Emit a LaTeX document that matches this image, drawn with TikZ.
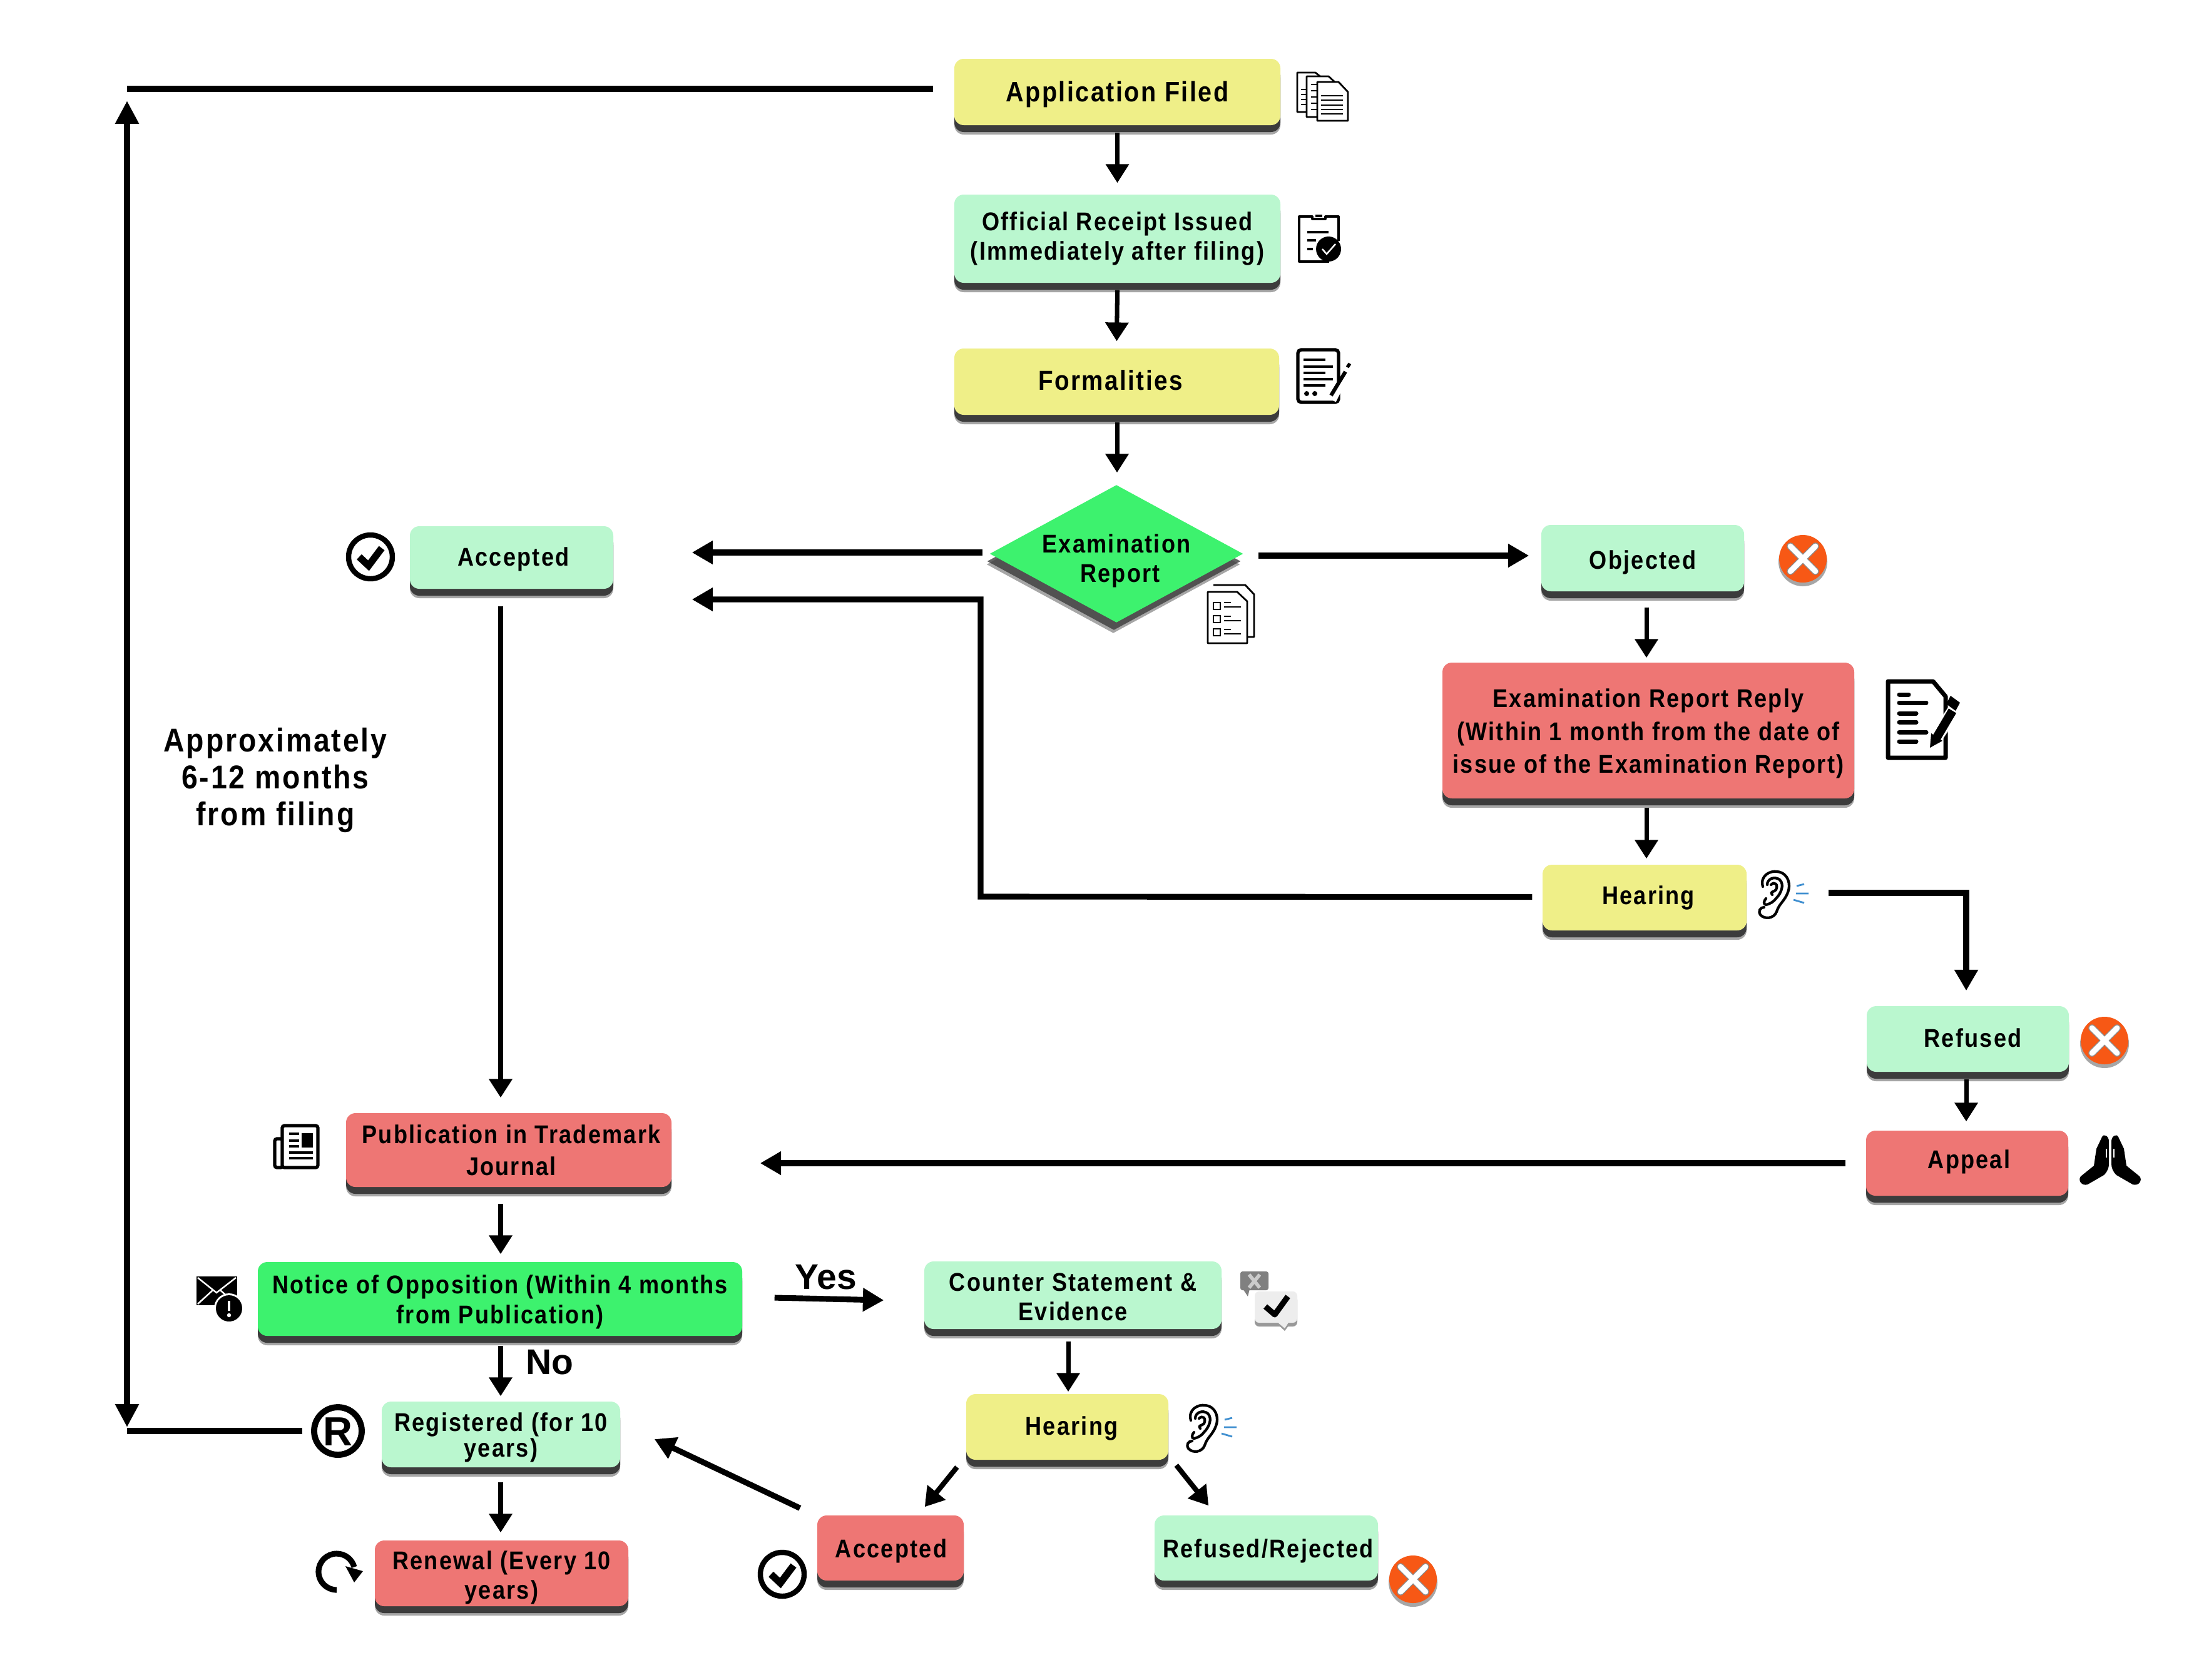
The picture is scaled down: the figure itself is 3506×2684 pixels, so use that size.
\documentclass[tikz,border=0pt]{standalone}
\usepackage{fontspec}
\setmainfont{Liberation Sans}[FakeStretch=0.88,LetterSpace=5.5]
\newfontfamily\labfont{Liberation Sans}
\usetikzlibrary{arrows.meta,shapes.geometric,shadows}
\newdimen\pxu \pxu=0.01cm
\definecolor{cyel}{HTML}{EFEF88}
\definecolor{cgrn}{HTML}{BAF7CF}
\definecolor{cgrd}{HTML}{7FA88C}
\definecolor{cred}{HTML}{EE7674}
\definecolor{cvivid}{HTML}{3DF26E}
\definecolor{corg}{HTML}{F75815}
\definecolor{cshd}{HTML}{3C3C3C}
\definecolor{cblu}{HTML}{3F8FD0}
\pgfdeclareverticalshading{topdark}{100bp}{color(0bp)=(cgrn);color(88bp)=(cgrn);color(100bp)=(cgrd)}
\newcommand{\fsz}[2]{\fontsize{#1pt}{#2pt}\selectfont}
\newcommand{\dn}[1]{\rule{0pt}{\dimexpr 8.7pt+1.27pt*#1\relax}}
\newcommand{\upw}[1]{\rule[-\dimexpr #1\relax]{0pt}{1pt}}
\tikzset{
 boxb/.style={rectangle,rounded corners=15\pxu,inner sep=0pt,align=center,font=\bfseries\fsz{11.67}{13.37},
   general shadow={fill=black,opacity=.35,shadow yshift=-15\pxu},
   general shadow={fill=cshd,shadow yshift=-11\pxu}},
 cy/.style={boxb,fill=cyel},
 cg/.style={boxb,fill=cgrn},
 cgt/.style={boxb,shade,shading=topdark},
 cr/.style={boxb,fill=cred},
 cv/.style={boxb,fill=cvivid},
 arr/.style={-{Triangle[length=8.5pt,width=10.2pt]},line width=2pt},
 arrt/.style={-{Triangle[length=9.5pt,width=10.2pt]},line width=2.6pt},
 plainl/.style={line width=2.6pt},
 iconl/.style={line width=.8pt,draw=black,fill=white,line join=round},
 txl/.style={inner sep=0pt,align=center,font=\bfseries\fsz{15}{16.8}},
 lab/.style={inner sep=0pt,font=\labfont\bfseries\fsz{16.2}{18}},
}
\newcommand{\xicon}[2]{\begin{scope}[shift={(#1,#2)}]
 \fill[black,opacity=.35] (0,5) circle[radius=39];
 \fill[corg] (0,0) circle[radius=38];
 \draw[black!45,line width=3.3pt,line cap=round] (-20,-20) -- (20,20) (-20,20) -- (20,-20);
 \draw[white,line width=2.5pt,line cap=round] (-20,-20) -- (20,20) (-20,20) -- (20,-20);
\end{scope}}
\newcommand{\chkicon}[2]{\begin{scope}[shift={(#1,#2)}]
 \draw[line width=2.4pt] (0,0) circle[radius=35];
 \draw[line width=3.2pt] (-18,0) -- (-3,14) -- (18,-14);
\end{scope}}
\newcommand{\earicon}[2]{\begin{scope}[shift={(#1,#2)}]
 \draw[line width=1.2pt,line cap=round] (7,25) .. controls (2,8) and (18,-1) .. (30,1) .. controls (48,3) and (52,22) .. (47,34) .. controls (42,48) and (33,52) .. (29,65) .. controls (25,76) and (10,78) .. (3,70) .. controls (-1,64) and (3,58) .. (9,58);
 \draw[line width=1.2pt,line cap=round] (14,22) .. controls (14,12) and (26,8) .. (34,14) .. controls (42,22) and (36,36) .. (28,44) .. controls (24,49) and (20,52) .. (12,54) .. controls (8,54) and (8,48) .. (12,44);
 \draw[line width=1.2pt,line cap=round] (20,22) .. controls (26,16) and (32,22) .. (28,30) .. controls (25,34) and (18,32) .. (22,38);
 \draw[cblu,line width=.8pt] (61,24) -- (73,21) (60,36) -- (80,36) (56,46) -- (73,51);
\end{scope}}
\newcommand{\handhalf}{\fill[black] (2,10) .. controls (2,2) and (10,-3) .. (13,3) -- (22,22) -- (26,49) -- (47,66) .. controls (52,72) and (46,82) .. (36,79) -- (10,64) .. controls (4,58) and (2,52) .. (2,46) -- cycle;
 \draw[white,line width=.7pt] (6,22) -- (6,36);}
\begin{document}
\begin{tikzpicture}[x=0.01cm,y=-0.01cm]
\useasboundingbox (0,0) rectangle (3506,2684);
\fill[white] (0,0) rectangle (3506,2684);
% boxes
\node[cy,minimum width=521\pxu,minimum height=106\pxu,font=\bfseries\fsz{12.8}{14}] (app) at (1785.5,147) {\dn{2}Application Filed};
\node[cg,minimum width=521\pxu,minimum height=141\pxu] (rec) at (1785.5,381.5) {Official Receipt Issued\\(Immediately after filing)};
\node[cy,minimum width=519\pxu,minimum height=106\pxu,font=\bfseries\fsz{12.5}{14}] (form) at (1784.5,610) {\upw{1.27pt}Formalities\hspace*{20\pxu}};
\node[diamond,shape aspect=1.84,inner sep=-8pt,fill=cvivid,align=center,minimum width=405\pxu,minimum height=220\pxu,font=\bfseries\fsz{11.67}{13.5},
  general shadow={fill=black,opacity=.35,shadow xshift=-5\pxu,shadow yshift=-17\pxu},
  general shadow={fill=cshd,opacity=.8,shadow xshift=-4\pxu,shadow yshift=-12\pxu}] (diam) at (1784,885) {\rule{0pt}{15pt}Examination\\\hspace*{12\pxu}Report};
\node[cg,minimum width=325\pxu,minimum height=100\pxu] (acc) at (817.5,891) {\dn{1}\hspace*{6\pxu}Accepted};
\node[cg,minimum width=324\pxu,minimum height=106\pxu] (obj) at (2625,892) {\dn{3}Objected};
\node[cr,minimum width=658\pxu,minimum height=217\pxu,font=\bfseries\fsz{11.67}{14.8}] (rep) at (2634,1167.5) {\dn{2}Examination Report Reply\\(Within 1 month from the date of\\issue of the Examination Report)};
\node[cy,minimum width=326\pxu,minimum height=105\pxu] (hearA) at (2628,1434.5) {\hspace*{12\pxu}Hearing};
\node[cg,minimum width=323\pxu,minimum height=105\pxu] (ref) at (3144.5,1660.5) {\upw{1.27pt}\hspace*{16\pxu}Refused};
\node[cr,minimum width=323\pxu,minimum height=104\pxu] (appeal) at (3143.5,1859) {\upw{3.7pt}\hspace*{6\pxu}Appeal};
\node[cr,minimum width=520\pxu,minimum height=118\pxu,font=\bfseries\fsz{11.67}{14.6}] (pub) at (813,1838) {\hspace*{8\pxu}Publication in Trademark\\\hspace*{8\pxu}Journal};
\node[cv,minimum width=774\pxu,minimum height=118\pxu,font=\bfseries\fsz{11.67}{13.7}] (notice) at (799,2076) {\dn{2}Notice of Opposition (Within 4 months\\from Publication)};
\node[cgt,minimum width=381\pxu,minimum height=105\pxu,font=\bfseries\fsz{11.67}{11.7}] (reg) at (800.5,2292.5) {\dn{2}Registered (for 10\\years)};
\node[cr,minimum width=405\pxu,minimum height=105\pxu,font=\bfseries\fsz{11.67}{13.4}] (renew) at (801.5,2514.5) {\dn{3}Renewal (Every 10\\years)};
\node[cgt,minimum width=475\pxu,minimum height=108\pxu,font=\bfseries\fsz{11.67}{13.4}] (counter) at (1714.5,2070) {\dn{1}Counter Statement \&\\Evidence};
\node[cy,minimum width=323\pxu,minimum height=105\pxu] (hearB) at (1705.5,2280.5) {\dn{1}\hspace*{14\pxu}Hearing};
\node[cr,minimum width=234\pxu,minimum height=104\pxu] (accB) at (1423,2474) {\dn{2}\hspace*{2\pxu}Accepted};
\node[cgt,minimum width=357\pxu,minimum height=104\pxu] (refB) at (2023.5,2474) {\dn{2}\hspace*{6\pxu}Refused/Rejected};
% free labels
\node[txl] (approx) at (440,1247) {Approximately\\6-12 months\\from filing};
\node[lab] (yes) at (1320,2041) {Yes};
\node[lab] (no) at (878,2177) {No};
\node[inner sep=0pt,font=\labfont\bfseries\fsz{18.5}{20}] (rsym) at (540,2288) {R};
% free connector points
\coordinate (ktop) at (203,142);
\coordinate (kbot) at (203,2287);
\coordinate (vtop) at (203,161);
\coordinate (vbot) at (203,2281);
\coordinate (kh1) at (1567,1433);
\coordinate (kh2) at (1567,958);
\coordinate (kh3) at (3142,1427);
% connectors
\draw[arr] ([yshift=-11\pxu]app.south) -- ([yshift=18\pxu]rec.north);
\draw[arr] ([yshift=-11\pxu]rec.south) -- ([yshift=11\pxu]form.north);
\draw[arr] ([xshift=.5\pxu,yshift=-11\pxu]form.south) -- ([xshift=1\pxu,yshift=19\pxu]diam.north);
\draw[arrt] ([xshift=24\pxu,yshift=-3\pxu]diam.east) -- ([xshift=-19\pxu,yshift=4\pxu]obj.west);
\draw[arrt] ([xshift=-11\pxu,yshift=2\pxu]diam.west) -- ([xshift=125\pxu,yshift=8\pxu]acc.east);
\draw[arrt] ([xshift=-16\pxu,yshift=1\pxu]hearA.west) -- (kh1) -- (kh2) -- ([xshift=125\pxu,yshift=-67\pxu]acc.east);
\draw[arr,line width=2.3pt] ([xshift=-17.5\pxu,yshift=-27\pxu]acc.south) -- ([xshift=-13\pxu,yshift=24\pxu]pub.north);
\draw[arr] ([xshift=6\pxu,yshift=-25\pxu]obj.south) -- ([xshift=-3\pxu,yshift=7\pxu]rep.north);
\draw[arr] ([xshift=-3\pxu,yshift=-14\pxu]rep.south) -- ([xshift=3\pxu,yshift=9\pxu]hearA.north);
\draw[arrt] ([xshift=130\pxu,yshift=7.5\pxu]hearA.east) -- (kh3) -- ([xshift=-2.5\pxu,yshift=24\pxu]ref.north);
\draw[arr] ([xshift=-2.5\pxu,yshift=-11\pxu]ref.south) -- ([xshift=-1.5\pxu,yshift=14\pxu]appeal.north);
\draw[arrt] ([xshift=-32\pxu]appeal.west) -- ([xshift=141\pxu,yshift=-21\pxu]pub.east);
\draw[arr] ([xshift=-13\pxu,yshift=-26\pxu]pub.south) -- ([xshift=1\pxu,yshift=12\pxu]notice.north);
\draw[arr] ([xshift=1\pxu,yshift=-15\pxu]notice.south) -- ([xshift=-.5\pxu,yshift=8\pxu]reg.north);
\draw[arr] ([xshift=-.5\pxu,yshift=-23\pxu]reg.south) -- ([xshift=-1.5\pxu,yshift=12\pxu]renew.north);
\draw[arrt] ([xshift=51\pxu,yshift=2\pxu]notice.east) -- ([xshift=-64\pxu,yshift=-8\pxu]counter.west);
\draw[arr] ([xshift=-7.5\pxu,yshift=-19\pxu]counter.south) -- ([xshift=1.5\pxu,yshift=3\pxu]hearB.north);
\draw[arr,line width=2.3pt] ([xshift=-14\pxu,yshift=-11\pxu]hearB.south west) -- ([xshift=-63\pxu,yshift=13\pxu]accB.north east);
\draw[arr,line width=2.3pt] ([xshift=12\pxu,yshift=-8\pxu]hearB.south east) -- ([xshift=87\pxu,yshift=15\pxu]refB.north west);
\draw[arrt] ([xshift=-27\pxu,yshift=11\pxu]accB.north west) -- ([xshift=54\pxu,yshift=-7.5\pxu]reg.east);
\draw[plainl] ([xshift=-33\pxu,yshift=5\pxu]app.west) -- (ktop);
\draw[plainl] ([xshift=-126\pxu,yshift=5.5\pxu]reg.west) -- (kbot);
\draw[{Triangle[length=10.5pt,width=10.2pt]}-{Triangle[length=10.5pt,width=10.2pt]},line width=2.6pt] (vtop) -- (vbot);
% status icons
\xicon{2881}{893}
\xicon{3363}{1663}
\xicon{2258}{2524}
\chkicon{592}{890}
\chkicon{1250}{2516}
\earicon{2810}{1392}
\earicon{1896}{2245}
% R circle
\draw[line width=2.8pt] (540,2287) circle[radius=38];
% refresh
\draw[line width=2.6pt] (538,2541) arc[start angle=90,end angle=345,radius=29];
\fill (552,2503) -- (580,2511) -- (566,2529) -- cycle;
% documents icon
\draw[iconl] (2073,116) -- (2102,116) -- (2113,125) -- (2113,179) -- (2073,179) -- cycle;
\draw[iconl] (2088,122) -- (2123,122) -- (2134,132) -- (2134,187) -- (2088,187) -- cycle;
\draw[iconl] (2105,131) -- (2139,131) -- (2154,147) -- (2154,193) -- (2105,193) -- cycle;
\draw[line width=.7pt] (2111,153) -- (2146,153) (2111,160) -- (2146,160) (2111,168) -- (2146,168) (2111,175) -- (2146,175) (2111,182) -- (2146,182)
  (2079,143) -- (2088,143) (2079,151) -- (2088,151) (2079,159) -- (2088,159) (2079,167) -- (2088,167)
  (2095,135) -- (2105,135) (2095,145) -- (2105,145) (2095,155) -- (2105,155) (2095,165) -- (2105,165) (2095,175) -- (2105,175);
% clipboard icon
\draw[line width=.9pt,line join=round] (2124,418) -- (2076,418) -- (2076,346) -- (2097,346) -- (2097,350) -- (2118,350) -- (2118,346) -- (2139,346) -- (2139,385);
\draw[line width=.9pt] (2102,345) -- (2113,345);
\draw[line width=.9pt] (2089,371) -- (2123,371) (2089,384) -- (2103,384) (2089,398) -- (2098,398);
\fill (2123,398) circle[radius=20];
\draw[white,line width=.7pt] (2113,398) -- (2120,406) -- (2134,390);
% form icon
\draw[line width=1.5pt,rounded corners=1.5pt] (2074,559) rectangle (2139,643);
\draw[line width=1pt] (2083,575) -- (2118,575) (2083,586) -- (2130,586) (2083,596) -- (2118,596) (2083,606) -- (2130,606) (2083,616) -- (2118,616);
\fill (2088,629) circle[radius=4] (2101,629) circle[radius=4];
\draw[white,line width=3pt] (2155,590) -- (2130,640);
\draw[line width=1.7pt] (2150,594) -- (2127,632);
\draw[line width=1.5pt] (2153,587) -- (2157,581);
% report icon
\draw[iconl] (1939,935) -- (1990,935) -- (2004,950) -- (2004,1018) -- (1993,1018);
\draw[iconl] (1930,946) -- (1977,946) -- (1993,961) -- (1993,1028) -- (1930,1028) -- cycle;
\draw[line width=.8pt] (1939,963) rectangle (1950,974) (1939,984) rectangle (1950,995) (1939,1005) rectangle (1950,1016)
  (1956,963) -- (1967,963) (1956,970) -- (1983,970) (1956,985) -- (1967,985) (1956,992) -- (1983,992) (1956,1006) -- (1967,1006) (1956,1013) -- (1983,1013);
% note and pencil icon
\draw[line width=2pt,line join=round,fill=white] (3017,1089) -- (3089,1089) -- (3109,1113) -- (3109,1211) -- (3017,1211) -- cycle;
\draw[line width=2pt,line cap=round] (3035,1110) -- (3050,1110) (3035,1123) -- (3078,1123) (3035,1140) -- (3062,1140) (3035,1154) -- (3062,1154) (3035,1170) -- (3078,1170) (3035,1185) -- (3062,1185);
\draw[white,line width=6pt] (3122,1136) -- (3086,1190);
\draw[line width=4pt] (3120,1136) -- (3094,1180);
\fill (3084,1195) -- (3086,1172) -- (3104,1184) -- cycle;
\fill (3117,1112) -- (3132,1123) -- (3125,1136) -- (3110,1125) -- cycle;
% newspaper icon
\draw[line width=1.5pt,rounded corners=1pt,fill=white] (439,1820) rectangle (452,1866);
\draw[line width=1.5pt,rounded corners=1pt,fill=white] (451,1799) rectangle (508,1866);
\fill (482,1811) rectangle (500,1834);
\draw[line width=.9pt] (462,1812) -- (478,1812) (462,1823) -- (478,1823) (462,1832) -- (478,1832) (462,1842) -- (500,1842) (462,1851) -- (500,1851);
% mail icon
\fill (314,2040) rectangle (379,2086);
\draw[white,line width=.7pt] (316,2042) -- (346,2066) -- (377,2042) (316,2084) -- (340,2062) (377,2084) -- (352,2062);
\fill[white] (366,2091) circle[radius=24];
\fill (366,2091) circle[radius=21];
\draw[white,line width=1.4pt] (366,2079) -- (366,2095);
\fill[white] (366,2102) circle[radius=3.2];
% speech icon
\fill[black!50,rounded corners=1pt] (1982,2032) rectangle (2027,2062);
\fill[black!50] (1986,2060) -- (1997,2060) -- (1994,2072) -- cycle;
\draw[black!20,line width=1.6pt] (1996,2037) -- (2013,2058) (2013,2037) -- (1996,2058);
\fill[black!40,rounded corners=2pt] (2005,2070) rectangle (2073,2120);
\fill[black!40] (2040,2115) -- (2062,2115) -- (2053,2127) -- cycle;
\fill[black!7,rounded corners=2pt] (2005,2064) rectangle (2073,2114);
\fill[black!7] (2040,2112) -- (2060,2112) -- (2053,2123) -- cycle;
\draw[line width=2.6pt,line join=round] (2022,2088) -- (2037,2101) -- (2058,2072);
% praying hands
\begin{scope}[shift={(3372,1814)}]\handhalf\end{scope}
\begin{scope}[shift={(3372,1814)},xscale=-1]\handhalf\end{scope}
\end{tikzpicture}
\end{document}
